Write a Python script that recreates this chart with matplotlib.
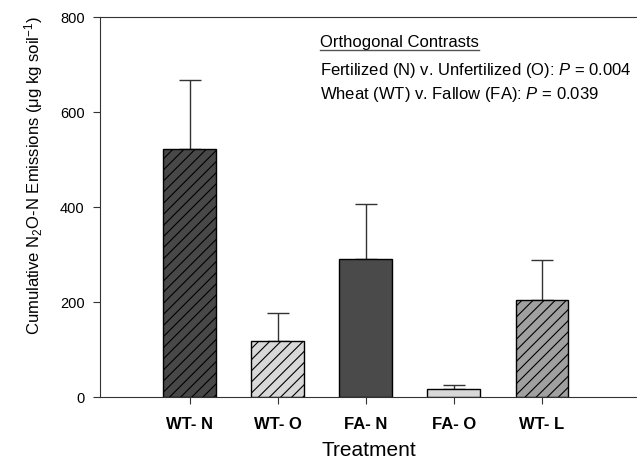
import matplotlib
matplotlib.use("Agg")
import matplotlib.pyplot as plt
import numpy as np

categories = ["WT- N", "WT- O", "FA- N", "FA- O", "WT- L"]
means = [522, 118, 290, 16, 205]
errors = [145, 58, 116, 9, 84]
colors = ["#484848", "#d8d8d8", "#4a4a4a", "#d8d8d8", "#a0a0a0"]
hatches = ["///", "///", "", "", "///"]

plt.rcParams['font.family'] = ['Liberation Sans', 'DejaVu Sans']
plt.rcParams['mathtext.fontset'] = 'custom'
plt.rcParams['mathtext.rm'] = 'Liberation Sans'
plt.rcParams['mathtext.it'] = 'Liberation Sans:italic'
plt.rcParams['hatch.linewidth'] = 0.8

fig = plt.figure(figsize=(6.37, 4.64), dpi=100)
ax = fig.add_axes([100/637, 1-398/464, 537/637, 380/464])

x = np.arange(len(categories))
for i in range(len(categories)):
    ax.bar(x[i], means[i], width=0.6, color=colors[i], edgecolor='black',
           linewidth=1.0, hatch=hatches[i], zorder=2)
ax.errorbar(x, means, yerr=[np.zeros(len(errors)), errors], fmt='none',
            ecolor='#333333', elinewidth=1.0, capsize=8, capthick=1.0, zorder=1)

ax.set_xlim(-1.02, 5.08)
ax.set_ylim(0, 800)
ax.set_yticks([0, 200, 400, 600, 800])
ax.set_xticks(x)
ax.set_xticklabels(categories, fontweight='bold', fontsize=12)
ax.tick_params(axis='y', labelsize=10.5, direction='out', length=5, color='#333333', pad=6)
ax.tick_params(axis='x', direction='out', length=5, color='#333333', pad=9)
for s in ['left', 'bottom', 'top']:
    ax.spines[s].set_color('#333333')
ax.spines['right'].set_visible(False)

ax.set_xlabel("Treatment", fontsize=15, labelpad=6)
ax.set_ylabel("Cumulative N$_2$O-N Emissions (μg kg soil$^{-1}$)", fontsize=12)
ax.yaxis.set_label_coords(-0.102, 0.584)

fs = 12
t = fig.text(320/637, 1-42/464, "Orthogonal Contrasts", fontsize=fs, va='center', ha='left')
fig.text(320/637, 1-70/464, "Fertilized (N) v. Unfertilized (O): $\\mathit{P}$ = 0.004", fontsize=fs, va='center', ha='left')
fig.text(320/637, 1-95/464, "Wheat (WT) v. Fallow (FA): $\\mathit{P}$ = 0.039", fontsize=fs, va='center', ha='left')

fig.canvas.draw()
bb = t.get_window_extent(renderer=fig.canvas.get_renderer())
bb_fig = bb.transformed(fig.transFigure.inverted())
yline = 1 - 50.5/464
fig.add_artist(plt.Line2D([bb_fig.x0, bb_fig.x1], [yline, yline], color='#555555', lw=1.0, transform=fig.transFigure))

fig.savefig("out.png", dpi=100)
